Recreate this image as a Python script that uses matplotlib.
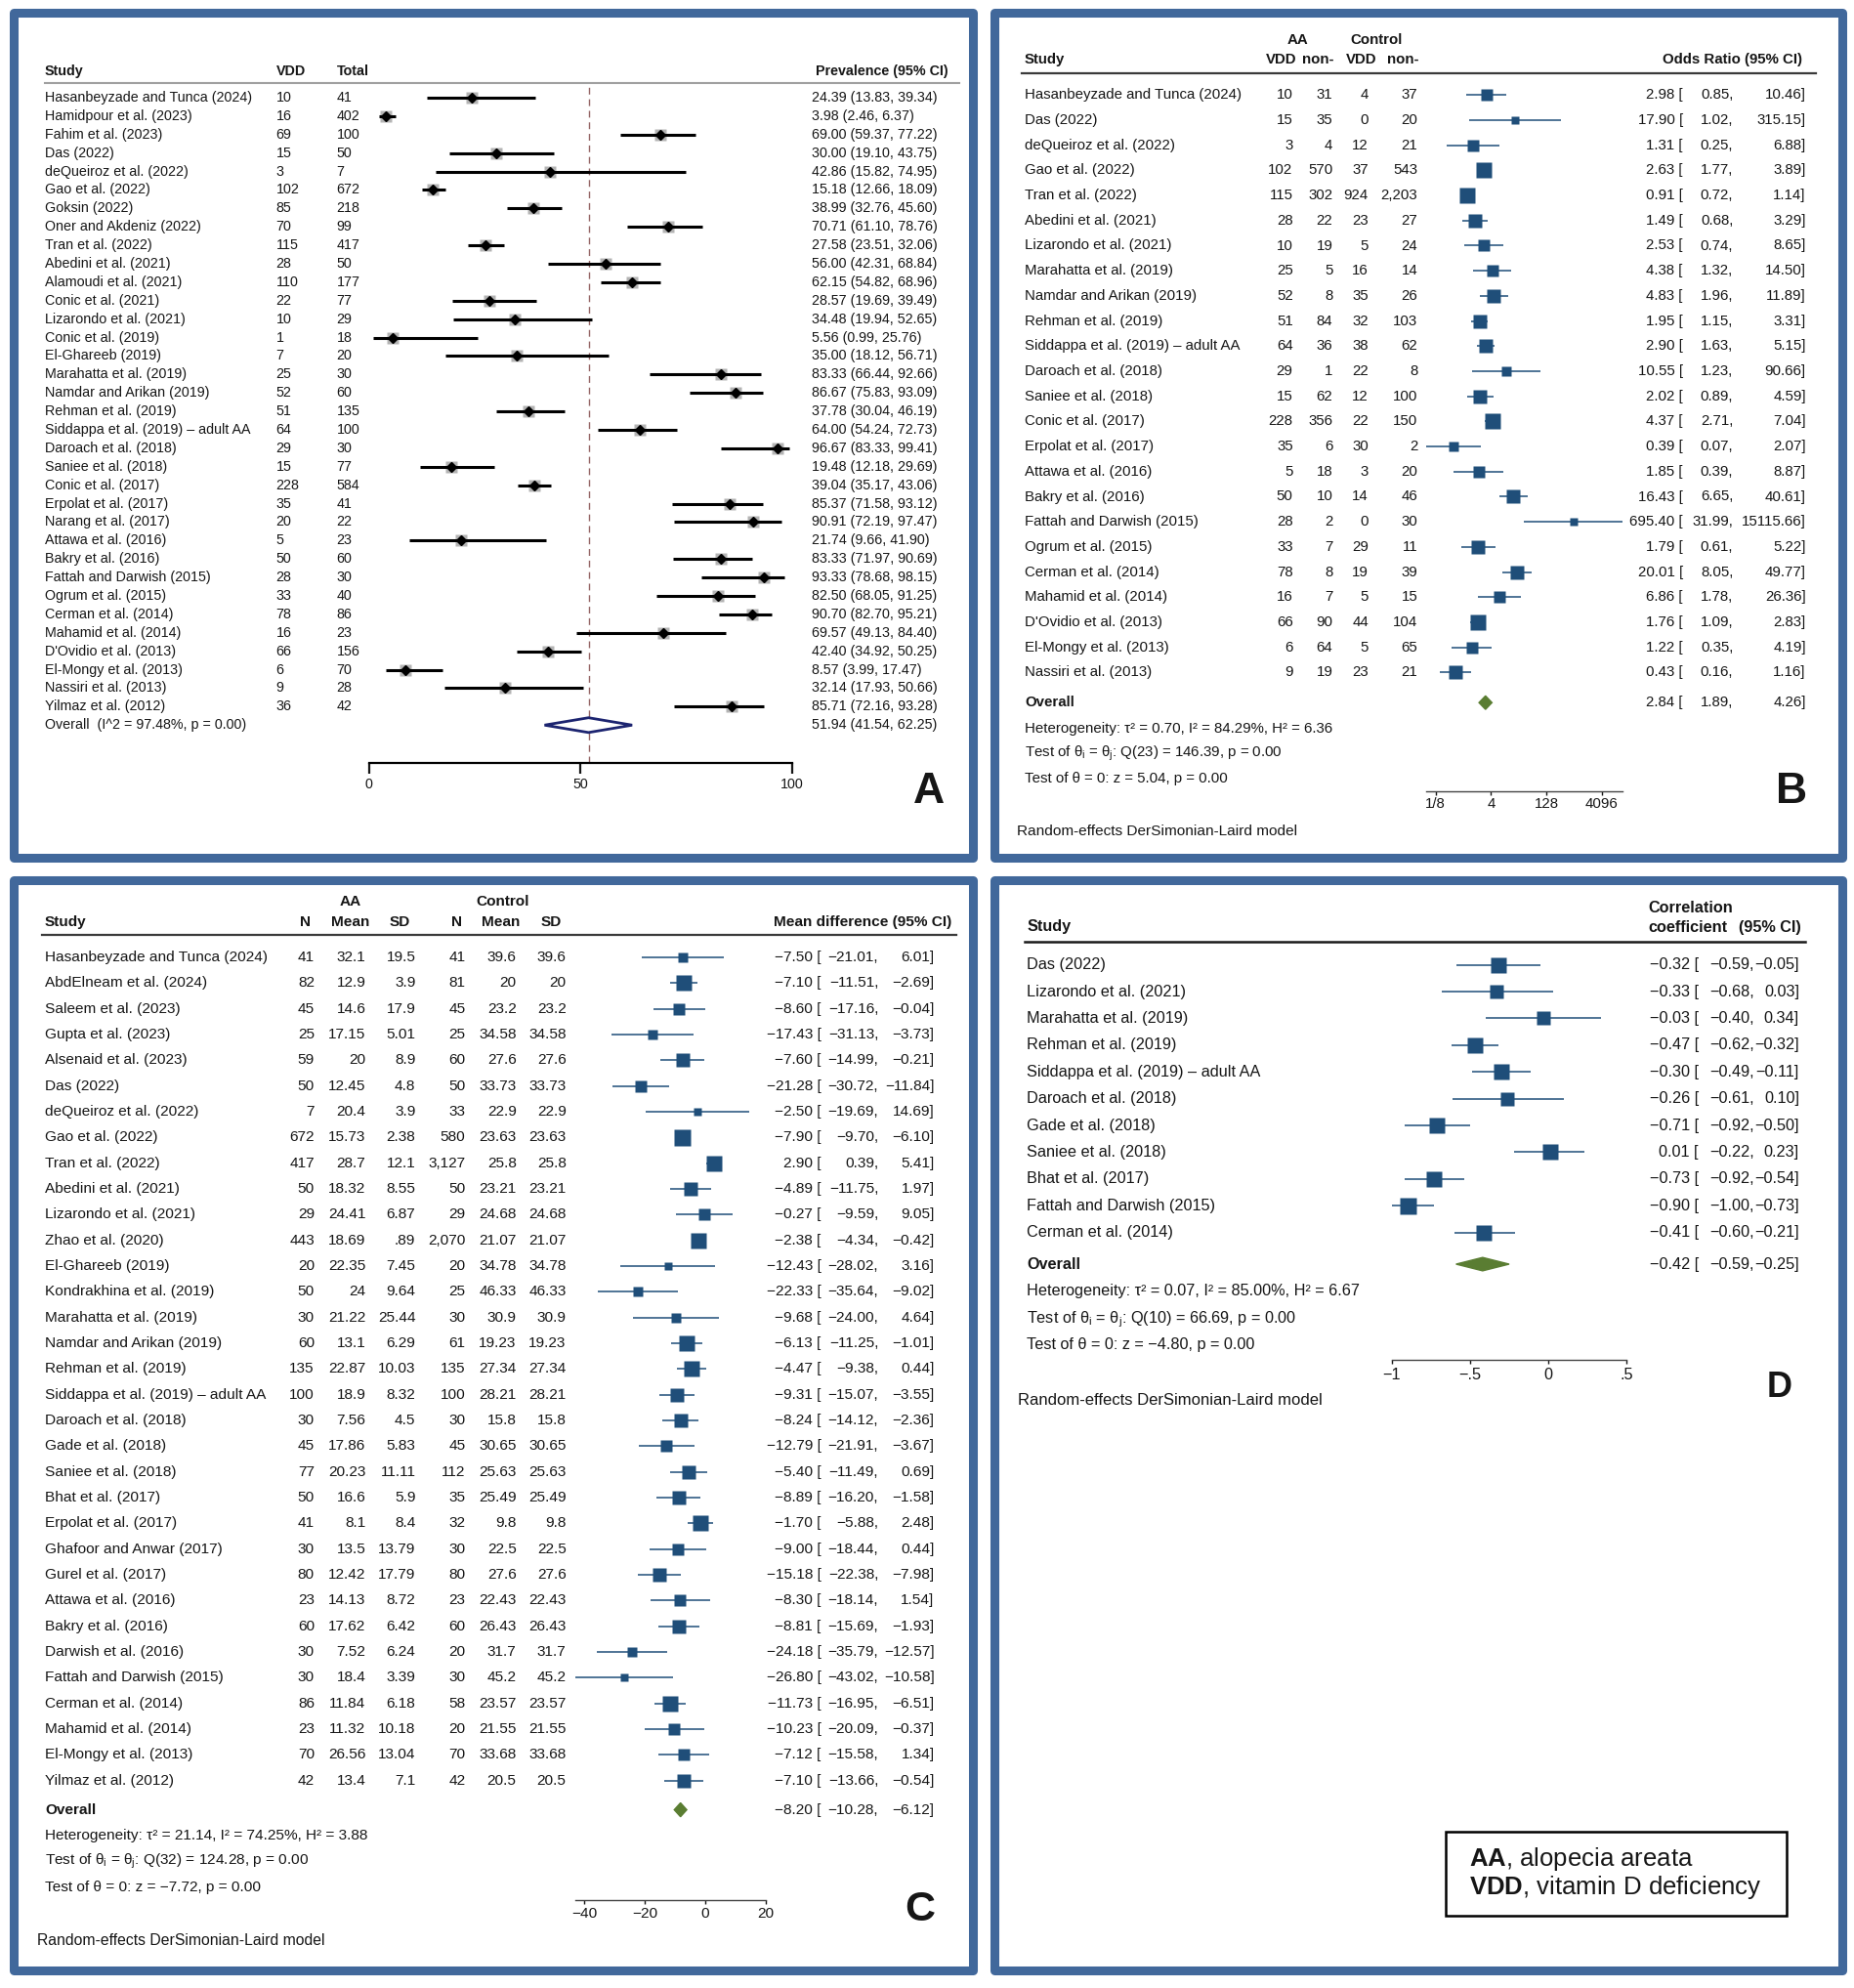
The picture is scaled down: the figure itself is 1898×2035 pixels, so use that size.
import numpy as np
import matplotlib
matplotlib.use('Agg')
import matplotlib.pyplot as plt
from matplotlib import transforms
from matplotlib.patches import Rectangle, Polygon

plt.rcParams['font.family'] = ['Liberation Sans', 'DejaVu Sans']
plt.rcParams['mathtext.fontset'] = 'custom'
plt.rcParams['mathtext.rm'] = 'Liberation Sans'
plt.rcParams['mathtext.it'] = 'Liberation Sans:italic'
plt.rcParams['mathtext.bf'] = 'Liberation Sans:bold'

# ---------------- data ----------------
# A: prevalence of VDD in AA
a_study = ["Hasanbeyzade and Tunca (2024)", "Hamidpour et al. (2023)", "Fahim et al. (2023)", "Das (2022)",
           "deQueiroz et al. (2022)", "Gao et al. (2022)", "Goksin (2022)", "Oner and Akdeniz (2022)",
           "Tran et al. (2022)", "Abedini et al. (2021)", "Alamoudi et al. (2021)", "Conic et al. (2021)",
           "Lizarondo et al. (2021)", "Conic et al. (2019)", "El-Ghareeb (2019)", "Marahatta et al. (2019)",
           "Namdar and Arikan (2019)", "Rehman et al. (2019)", "Siddappa et al. (2019) \u2013 adult AA",
           "Daroach et al. (2018)", "Saniee et al. (2018)", "Conic et al. (2017)", "Erpolat et al. (2017)",
           "Narang et al. (2017)", "Attawa et al. (2016)", "Bakry et al. (2016)", "Fattah and Darwish (2015)",
           "Ogrum et al. (2015)", "Cerman et al. (2014)", "Mahamid et al. (2014)", "D'Ovidio et al. (2013)",
           "El-Mongy et al. (2013)", "Nassiri et al. (2013)", "Yilmaz et al. (2012)"]
a_vdd = [10, 16, 69, 15, 3, 102, 85, 70, 115, 28, 110, 22, 10, 1, 7, 25, 52, 51, 64, 29, 15, 228, 35, 20,
         5, 50, 28, 33, 78, 16, 66, 6, 9, 36]
a_total = [41, 402, 100, 50, 7, 672, 218, 99, 417, 50, 177, 77, 29, 18, 20, 30, 60, 135, 100, 30, 77, 584,
           41, 22, 23, 60, 30, 40, 86, 23, 156, 70, 28, 42]
a_est = [24.39, 3.98, 69.00, 30.00, 42.86, 15.18, 38.99, 70.71, 27.58, 56.00, 62.15, 28.57, 34.48, 5.56,
         35.00, 83.33, 86.67, 37.78, 64.00, 96.67, 19.48, 39.04, 85.37, 90.91, 21.74, 83.33, 93.33, 82.50,
         90.70, 69.57, 42.40, 8.57, 32.14, 85.71]
a_lo = [13.83, 2.46, 59.37, 19.10, 15.82, 12.66, 32.76, 61.10, 23.51, 42.31, 54.82, 19.69, 19.94, 0.99,
        18.12, 66.44, 75.83, 30.04, 54.24, 83.33, 12.18, 35.17, 71.58, 72.19, 9.66, 71.97, 78.68, 68.05,
        82.70, 49.13, 34.92, 3.99, 17.93, 72.16]
a_hi = [39.34, 6.37, 77.22, 43.75, 74.95, 18.09, 45.60, 78.76, 32.06, 68.84, 68.96, 39.49, 52.65, 25.76,
        56.71, 92.66, 93.09, 46.19, 72.73, 99.41, 29.69, 43.06, 93.12, 97.47, 41.90, 90.69, 98.15, 91.25,
        95.21, 84.40, 50.25, 17.47, 50.66, 93.28]
a_overall = [51.94, 41.54, 62.25]
a_i2 = "97.48%"

# B: odds ratio of VDD, AA vs control
b_study = ["Hasanbeyzade and Tunca (2024)", "Das (2022)", "deQueiroz et al. (2022)", "Gao et al. (2022)",
           "Tran et al. (2022)", "Abedini et al. (2021)", "Lizarondo et al. (2021)", "Marahatta et al. (2019)",
           "Namdar and Arikan (2019)", "Rehman et al. (2019)", "Siddappa et al. (2019) \u2013 adult AA",
           "Daroach et al. (2018)", "Saniee et al. (2018)", "Conic et al. (2017)", "Erpolat et al. (2017)",
           "Attawa et al. (2016)", "Bakry et al. (2016)", "Fattah and Darwish (2015)", "Ogrum et al. (2015)",
           "Cerman et al. (2014)", "Mahamid et al. (2014)", "D'Ovidio et al. (2013)", "El-Mongy et al. (2013)",
           "Nassiri et al. (2013)"]
b_aa_vdd = ["10", "15", "3", "102", "115", "28", "10", "25", "52", "51", "64", "29", "15", "228", "35", "5",
            "50", "28", "33", "78", "16", "66", "6", "9"]
b_aa_non = ["31", "35", "4", "570", "302", "22", "19", "5", "8", "84", "36", "1", "62", "356", "6", "18",
            "10", "2", "7", "8", "7", "90", "64", "19"]
b_ctl_vdd = ["4", "0", "12", "37", "924", "23", "5", "16", "35", "32", "38", "22", "12", "22", "30", "3",
             "14", "0", "29", "19", "5", "44", "5", "23"]
b_ctl_non = ["37", "20", "21", "543", "2,203", "27", "24", "14", "26", "103", "62", "8", "100", "150", "2",
             "20", "46", "30", "11", "39", "15", "104", "65", "21"]
b_or = [2.98, 17.90, 1.31, 2.63, 0.91, 1.49, 2.53, 4.38, 4.83, 1.95, 2.90, 10.55, 2.02, 4.37, 0.39, 1.85,
        16.43, 695.40, 1.79, 20.01, 6.86, 1.76, 1.22, 0.43]
b_lo = [0.85, 1.02, 0.25, 1.77, 0.72, 0.68, 0.74, 1.32, 1.96, 1.15, 1.63, 1.23, 0.89, 2.71, 0.07, 0.39,
        6.65, 31.99, 0.61, 8.05, 1.78, 1.09, 0.35, 0.16]
b_hi = [10.46, 315.15, 6.88, 3.89, 1.14, 3.29, 8.65, 14.50, 11.89, 3.31, 5.15, 90.66, 4.59, 7.04, 2.07,
        8.87, 40.61, 15115.66, 5.22, 49.77, 26.36, 2.83, 4.19, 1.16]
b_overall = [2.84, 1.89, 4.26]
b_tau2, b_i2, b_h2, b_q, b_df, b_z = 0.70, 84.29, 6.36, 146.39, 23, 5.04
b_ticks = [1 / 8, 4, 128, 4096]
b_ticklabels = ["1/8", "4", "128", "4096"]

# C: mean difference in vitamin D level, AA vs control
c_study = ["Hasanbeyzade and Tunca (2024)", "AbdElneam et al. (2024)", "Saleem et al. (2023)",
           "Gupta et al. (2023)", "Alsenaid et al. (2023)", "Das (2022)", "deQueiroz et al. (2022)",
           "Gao et al. (2022)", "Tran et al. (2022)", "Abedini et al. (2021)", "Lizarondo et al. (2021)",
           "Zhao et al. (2020)", "El-Ghareeb (2019)", "Kondrakhina et al. (2019)", "Marahatta et al. (2019)",
           "Namdar and Arikan (2019)", "Rehman et al. (2019)", "Siddappa et al. (2019) \u2013 adult AA",
           "Daroach et al. (2018)", "Gade et al. (2018)", "Saniee et al. (2018)", "Bhat et al. (2017)",
           "Erpolat et al. (2017)", "Ghafoor and Anwar (2017)", "Gurel et al. (2017)", "Attawa et al. (2016)",
           "Bakry et al. (2016)", "Darwish et al. (2016)", "Fattah and Darwish (2015)", "Cerman et al. (2014)",
           "Mahamid et al. (2014)", "El-Mongy et al. (2013)", "Yilmaz et al. (2012)"]
c_aa_n = ["41", "82", "45", "25", "59", "50", "7", "672", "417", "50", "29", "443", "20", "50", "30", "60",
          "135", "100", "30", "45", "77", "50", "41", "30", "80", "23", "60", "30", "30", "86", "23", "70", "42"]
c_aa_mean = ["32.1", "12.9", "14.6", "17.15", "20", "12.45", "20.4", "15.73", "28.7", "18.32", "24.41",
             "18.69", "22.35", "24", "21.22", "13.1", "22.87", "18.9", "7.56", "17.86", "20.23", "16.6", "8.1",
             "13.5", "12.42", "14.13", "17.62", "7.52", "18.4", "11.84", "11.32", "26.56", "13.4"]
c_aa_sd = ["19.5", "3.9", "17.9", "5.01", "8.9", "4.8", "3.9", "2.38", "12.1", "8.55", "6.87", ".89", "7.45",
           "9.64", "25.44", "6.29", "10.03", "8.32", "4.5", "5.83", "11.11", "5.9", "8.4", "13.79", "17.79",
           "8.72", "6.42", "6.24", "3.39", "6.18", "10.18", "13.04", "7.1"]
c_ctl_n = ["41", "81", "45", "25", "60", "50", "33", "580", "3,127", "50", "29", "2,070", "20", "25", "30",
           "61", "135", "100", "30", "45", "112", "35", "32", "30", "80", "23", "60", "20", "30", "58", "20",
           "70", "42"]
c_ctl_mean = ["39.6", "20", "23.2", "34.58", "27.6", "33.73", "22.9", "23.63", "25.8", "23.21", "24.68",
              "21.07", "34.78", "46.33", "30.9", "19.23", "27.34", "28.21", "15.8", "30.65", "25.63", "25.49",
              "9.8", "22.5", "27.6", "22.43", "26.43", "31.7", "45.2", "23.57", "21.55", "33.68", "20.5"]
c_ctl_sd = c_ctl_mean
c_md = [-7.50, -7.10, -8.60, -17.43, -7.60, -21.28, -2.50, -7.90, 2.90, -4.89, -0.27, -2.38, -12.43, -22.33,
        -9.68, -6.13, -4.47, -9.31, -8.24, -12.79, -5.40, -8.89, -1.70, -9.00, -15.18, -8.30, -8.81, -24.18,
        -26.80, -11.73, -10.23, -7.12, -7.10]
c_lo = [-21.01, -11.51, -17.16, -31.13, -14.99, -30.72, -19.69, -9.70, 0.39, -11.75, -9.59, -4.34, -28.02,
        -35.64, -24.00, -11.25, -9.38, -15.07, -14.12, -21.91, -11.49, -16.20, -5.88, -18.44, -22.38, -18.14,
        -15.69, -35.79, -43.02, -16.95, -20.09, -15.58, -13.66]
c_hi = [6.01, -2.69, -0.04, -3.73, -0.21, -11.84, 14.69, -6.10, 5.41, 1.97, 9.05, -0.42, 3.16, -9.02, 4.64,
        -1.01, 0.44, -3.55, -2.36, -3.67, 0.69, -1.58, 2.48, 0.44, -7.98, 1.54, -1.93, -12.57, -10.58, -6.51,
        -0.37, 1.34, -0.54]
c_overall = [-8.20, -10.28, -6.12]
c_tau2, c_i2, c_h2, c_q, c_df, c_z = 21.14, 74.25, 3.88, 124.28, 32, -7.72
c_ticks = [-40, -20, 0, 20]

# D: correlation coefficient
d_study = ["Das (2022)", "Lizarondo et al. (2021)", "Marahatta et al. (2019)", "Rehman et al. (2019)",
           "Siddappa et al. (2019) \u2013 adult AA", "Daroach et al. (2018)", "Gade et al. (2018)",
           "Saniee et al. (2018)", "Bhat et al. (2017)", "Fattah and Darwish (2015)", "Cerman et al. (2014)"]
d_r = [-0.32, -0.33, -0.03, -0.47, -0.30, -0.26, -0.71, 0.01, -0.73, -0.90, -0.41]
d_lo = [-0.59, -0.68, -0.40, -0.62, -0.49, -0.61, -0.92, -0.22, -0.92, -1.00, -0.60]
d_hi = [-0.05, 0.03, 0.34, -0.32, -0.11, 0.10, -0.50, 0.23, -0.54, -0.73, -0.21]
d_overall = [-0.42, -0.59, -0.25]
d_tau2, d_i2, d_h2, d_q, d_df, d_z = 0.07, 85.00, 6.67, 66.69, 10, -4.80
d_ticks = [-1, -0.5, 0, 0.5]
d_ticklabels = ["\u22121", "\u2212.5", "0", ".5"]

# ---------------- figure ----------------
W, H = 1898, 2035
TC = '#161616'
NAVY = '#1f4e79'
GREEN = '#5a7d32'
FRAME = '#41689b'

fig = plt.figure(figsize=(W / 100, H / 100), dpi=100)
bg = fig.add_axes([0, 0, 1, 1])
bg.set_xlim(0, W)
bg.set_ylim(H, 0)
bg.axis('off')


def m(v):
    return f"{v:.2f}".replace('-', '\u2212')


def forest_axes(px0, px1, ytop, ybot, xlim, y0, gap, log=False):
    ax = fig.add_axes([px0 / W, 1 - ybot / H, (px1 - px0) / W, (ybot - ytop) / H])
    if log:
        ax.set_xscale('log', base=2)
    ax.set_xlim(*xlim)
    ax.set_ylim((ybot - y0) / gap, (ytop - y0) / gap)
    ax.patch.set_alpha(0)
    for s in ['top', 'left', 'right']:
        ax.spines[s].set_visible(False)
    ax.set_yticks([])
    ax.minorticks_off()
    tr = transforms.blended_transform_factory(bg.transData, ax.transData)
    return ax, tr


def txt(x, y, s, tr=None, ha='left', size=10.5, weight='normal', va='center'):
    bg.text(x, y, s, transform=tr if tr is not None else bg.transData, ha=ha, va=va,
            fontsize=size, fontweight=weight, color=TC)


def hetero(tr, x, rows, tau2, i2, h2, q, df, z, size):
    txt(x, rows[0], f"Heterogeneity: \u03c4\u00b2 = {tau2:.2f}, I\u00b2 = {i2:.2f}%, H\u00b2 = {h2:.2f}", tr, size=size)
    txt(x, rows[1], "Test of \u03b8$_\\mathregular{i}$ = \u03b8$_\\mathregular{j}$: " + f"Q({df}) = {q:.2f}, p = 0.00",
        tr, size=size)
    txt(x, rows[2], f"Test of \u03b8 = 0: z = {m(z)}, p = 0.00", tr, size=size)


def diamond(ax, est, lo, hi, row, h, fc, ec, lw=1.0):
    ax.add_patch(Polygon([(lo, row), (est, row - h), (hi, row), (est, row + h)], closed=True,
                         fc=fc, ec=ec, lw=lw, zorder=4, clip_on=False))


def box_sizes(se, tau2, max_px):
    w = 1 / (np.asarray(se) ** 2 + tau2)
    return max_px * np.sqrt(w / w.max()) * 72 / 100


# frames
for (x0, y0_, x1, y1) in [(14, 13, 996, 878), (1018, 13, 1886, 878), (14, 901, 996, 2017), (1018, 901, 1886, 2017)]:
    bg.add_patch(Rectangle((x0, y0_), x1 - x0, y1 - y0_, fill=False, ec=FRAME, lw=6.5, joinstyle='round'))

# ================= Panel A =================
fs = 10.3
y0, gap = 100, 18.89
axA, trA = forest_axes(377.6, 810.6, 87, 780.7, (0, 100), y0, gap)
rows = np.arange(len(a_study))
axA.hlines(rows, a_lo, a_hi, color='k', lw=2.2, zorder=2)
axA.plot(a_est, rows, 's', ms=8.5, color='#b4b4b4', mec='none', zorder=1, clip_on=False)
axA.plot(a_est, rows, 'D', ms=5.2, color='k', zorder=3, clip_on=False)
n = len(a_study)
diamond(axA, a_overall[0], a_overall[1], a_overall[2], n, 0.4, 'white', '#1c2470', lw=2.0)
axA.axvline(a_overall[0], color='#946565', lw=1.0, ls=(0, (5, 3.5)), zorder=0)
axA.spines['bottom'].set_bounds(0, 100)
axA.spines['bottom'].set_linewidth(1.6)
axA.set_xticks([0, 50, 100])
axA.set_xticklabels(["0", "50", "100"])
axA.tick_params(axis='x', direction='out', length=8, width=1.6, labelsize=fs, pad=3, colors=TC)

txt(46, 72.7, "Study", size=fs, weight='bold')
txt(282.5, 72.7, "VDD", size=fs, weight='bold')
txt(344.4, 72.7, "Total", size=fs, weight='bold')
txt(970.7, 72.7, "Prevalence (95% CI)", ha='right', size=fs, weight='bold')
bg.plot([46, 982], [85, 85], color='#a0a0a0', lw=1.5)
for i in range(n):
    txt(46, i, a_study[i], trA, size=fs)
    txt(282.5, i, str(a_vdd[i]), trA, size=fs)
    txt(344.4, i, str(a_total[i]), trA, size=fs)
    txt(831, i, f"{a_est[i]:.2f} ({a_lo[i]:.2f}, {a_hi[i]:.2f})", trA, size=fs)
txt(46, n, f"Overall  (I^2 = {a_i2}, p = 0.00)", trA, size=fs)
txt(831, n, f"{a_overall[0]:.2f} ({a_overall[1]:.2f}, {a_overall[2]:.2f})", trA, size=fs)
txt(951, 810, "A", ha='center', size=32, weight='bold')

# ================= Panel B =================
fs = 10.8
y0, gap = 97.3, 25.7
axB, trB = forest_axes(1452.6, 1668.2, 75, 810, (2 ** -4.5, 2 ** 14.5), y0, gap, log=True)
rows = np.arange(len(b_study))
axB.hlines(rows, b_lo, b_hi, color=NAVY, lw=1.1, zorder=2)
se = (np.log(b_hi) - np.log(b_lo)) / 3.92
for i, s in enumerate(box_sizes(se, b_tau2, 15.5)):
    axB.plot(b_or[i], i, 's', ms=s, color=NAVY, mec='none', zorder=3)
n = len(b_study)
ov = n + 0.2
diamond(axB, b_overall[0], b_overall[1], b_overall[2], ov, 0.27, GREEN, GREEN)
axB.spines['bottom'].set_bounds(min(b_lo), max(b_hi))
axB.spines['bottom'].set_color('#444444')
axB.spines['bottom'].set_linewidth(1.0)
axB.set_xticks(b_ticks)
axB.set_xticklabels(b_ticklabels)
axB.tick_params(axis='x', which='major', direction='out', length=3, width=1.0, labelsize=fs, pad=1.5,
                colors=TC)
axB.tick_params(axis='x', which='minor', length=0)

txt(1329, 40.7, "AA", ha='center', size=fs, weight='bold')
txt(1409.5, 40.7, "Control", ha='center', size=fs, weight='bold')
txt(1049, 61, "Study", size=fs, weight='bold')
for xc, lab in [(1311.6, "VDD"), (1349.4, "non-"), (1393.5, "VDD"), (1436.4, "non-")]:
    txt(xc, 61, lab, ha='center', size=fs, weight='bold')
txt(1845.4, 61, "Odds Ratio (95% CI)", ha='right', size=fs, weight='bold')
bg.plot([1045.8, 1859], [75, 75], color='#3a3a3a', lw=1.6)
for i in range(n):
    txt(1049, i, b_study[i], trB, size=fs)
    for xr, col in [(1323.6, b_aa_vdd), (1364.3, b_aa_non), (1400.9, b_ctl_vdd), (1451.3, b_ctl_non)]:
        txt(xr, i, col[i], trB, ha='right', size=fs)
    txt(1722.8, i, f"{b_or[i]:.2f} [", trB, ha='right', size=fs)
    txt(1774.3, i, f"{b_lo[i]:.2f},", trB, ha='right', size=fs)
    txt(1848.8, i, f"{b_hi[i]:.2f}]", trB, ha='right', size=fs)
txt(1049, ov, "Overall", trB, size=fs, weight='bold')
txt(1722.8, ov, f"{b_overall[0]:.2f} [", trB, ha='right', size=fs)
txt(1774.3, ov, f"{b_overall[1]:.2f},", trB, ha='right', size=fs)
txt(1848.8, ov, f"{b_overall[2]:.2f}]", trB, ha='right', size=fs)
hetero(trB, 1049, [n + 1.24, n + 2.24, n + 3.24], b_tau2, b_i2, b_h2, b_q, b_df, b_z, fs)
txt(1041, 851, "Random-effects DerSimonian-Laird model", size=11.1)
txt(1834, 810, "B", ha='center', size=32, weight='bold')

# ================= Panel C =================
fs = 11.1
y0, gap = 980, 26.33
axC, trC = forest_axes(582.95, 799.25, 957.3, 1945, (-45, 25), y0, gap)
rows = np.arange(len(c_study))
axC.hlines(rows, c_lo, c_hi, color=NAVY, lw=1.1, zorder=2)
se = (np.array(c_hi) - np.array(c_lo)) / 3.92
for i, s in enumerate(box_sizes(se, c_tau2, 17)):
    axC.plot(c_md[i], i, 's', ms=s, color=NAVY, mec='none', zorder=3)
n = len(c_study)
ov = n + 0.14
diamond(axC, c_overall[0], c_overall[1], c_overall[2], ov, 0.27, GREEN, GREEN)
axC.spines['bottom'].set_bounds(min(c_lo), max(c_ticks))
axC.spines['bottom'].set_color('#444444')
axC.spines['bottom'].set_linewidth(1.0)
axC.set_xticks(c_ticks)
axC.set_xticklabels([str(t).replace('-', '\u2212') for t in c_ticks])
axC.tick_params(axis='x', direction='out', length=3, width=1.0, labelsize=fs, pad=2, colors=TC)

txt(358.4, 923.3, "AA", ha='center', size=fs, weight='bold')
txt(514.7, 923.3, "Control", ha='center', size=fs, weight='bold')
txt(46, 944.3, "Study", size=fs, weight='bold')
for xc, lab in [(312.5, "N"), (358.4, "Mean"), (409.4, "SD"), (467.5, "N"), (512.8, "Mean"), (563.8, "SD")]:
    txt(xc, 944.3, lab, ha='center', size=fs, weight='bold')
txt(973.9, 944.3, "Mean difference (95% CI)", ha='right', size=fs, weight='bold')
bg.plot([43, 979], [957.3, 957.3], color='#3a3a3a', lw=1.6)
for i in range(n):
    txt(46, i, c_study[i], trC, size=fs)
    for xr, col in [(322, c_aa_n), (374.4, c_aa_mean), (425.4, c_aa_sd), (476.4, c_ctl_n),
                    (528.7, c_ctl_mean), (579.7, c_ctl_sd)]:
        txt(xr, i, col[i], trC, ha='right', size=fs)
    txt(840.6, i, f"{m(c_md[i])} [", trC, ha='right', size=fs)
    txt(899.2, i, f"{m(c_lo[i])},", trC, ha='right', size=fs)
    txt(956.6, i, f"{m(c_hi[i])}]", trC, ha='right', size=fs)
txt(46, ov, "Overall", trC, size=fs, weight='bold')
txt(840.6, ov, f"{m(c_overall[0])} [", trC, ha='right', size=fs)
txt(899.2, ov, f"{m(c_overall[1])},", trC, ha='right', size=fs)
txt(956.6, ov, f"{m(c_overall[2])}]", trC, ha='right', size=fs)
hetero(trC, 46, [n + 1.15, n + 2.14, n + 3.14], c_tau2, c_i2, c_h2, c_q, c_df, c_z, fs)
txt(38.3, 1986.7, "Random-effects DerSimonian-Laird model", size=11.3)
txt(942, 1955, "C", ha='center', size=31, weight='bold')

# ================= Panel D =================
fs = 11.7
y0, gap = 987.7, 27.4
axD, trD = forest_axes(1409, 1681, 964, 1391.7, (-1.1, 0.6), y0, gap)
rows = np.arange(len(d_study))
axD.hlines(rows, d_lo, d_hi, color=NAVY, lw=1.1, zorder=2)
se = (np.array(d_hi) - np.array(d_lo)) / 3.92
for i, s in enumerate(box_sizes(se, d_tau2, 17)):
    axD.plot(d_r[i], i, 's', ms=s, color=NAVY, mec='none', zorder=3)
n = len(d_study)
ov = n + 0.18
diamond(axD, d_overall[0], d_overall[1], d_overall[2], ov, 0.25, GREEN, GREEN)
axD.spines['bottom'].set_bounds(-1, 0.5)
axD.spines['bottom'].set_color('#444444')
axD.spines['bottom'].set_linewidth(1.0)
axD.set_xticks(d_ticks)
axD.set_xticklabels(d_ticklabels)
axD.tick_params(axis='x', direction='out', length=3, width=1.0, labelsize=fs, pad=3, colors=TC)

txt(1051.5, 948.3, "Study", size=fs, weight='bold')
txt(1687.3, 930, "Correlation", size=fs, weight='bold')
txt(1687.3, 949.3, "coefficient", size=fs, weight='bold')
txt(1844.2, 949.3, "(95% CI)", ha='right', size=fs, weight='bold')
bg.plot([1048.7, 1847.7], [964, 964], color='#1a1a1a', lw=1.8)
for i in range(n):
    txt(1051.5, i, d_study[i], trD, size=fs)
    txt(1738.8, i, f"{m(d_r[i])} [", trD, ha='right', size=fs)
    txt(1796, i, f"{m(d_lo[i])},", trD, ha='right', size=fs)
    txt(1842, i, f"{m(d_hi[i])}]", trD, ha='right', size=fs)
txt(1051.5, ov, "Overall", trD, size=fs, weight='bold')
txt(1738.8, ov, f"{m(d_overall[0])} [", trD, ha='right', size=fs)
txt(1796, ov, f"{m(d_overall[1])},", trD, ha='right', size=fs)
txt(1842, ov, f"{m(d_overall[2])}]", trD, ha='right', size=fs)
hetero(trD, 1051.5, [n + 1.17, n + 2.23, n + 3.18], d_tau2, d_i2, d_h2, d_q, d_df, d_z, fs)
txt(1042, 1434, "Random-effects DerSimonian-Laird model", size=12)
txt(1821.7, 1420, "D", ha='center', size=26, weight='bold')

# abbreviations box
bg.add_patch(Rectangle((1480, 1875), 348.7, 85.7, fill=False, ec='black', lw=1.8))
txt(1504, 1903.3, r"$\mathbf{AA}$, alopecia areata", size=18.5)
txt(1504, 1931.7, r"$\mathbf{VDD}$, vitamin D deficiency", size=18.5)

fig.savefig('out.png', dpi=100)
